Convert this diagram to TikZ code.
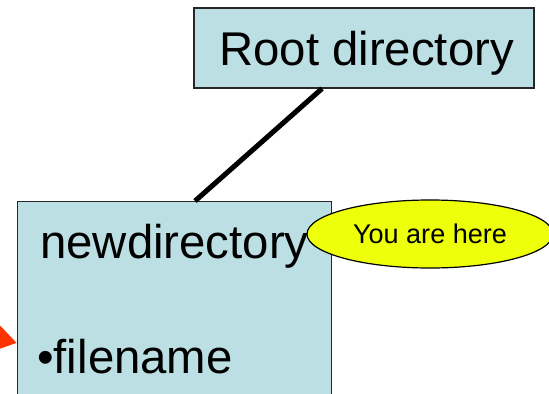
\documentclass[tikz,border=0pt]{standalone}
\usepackage{xcolor}
\usepackage{fontspec}
\setmainfont{Liberation Sans}
\usetikzlibrary{positioning,calc,shapes.geometric}
\usetikzlibrary{arrows.meta}
\definecolor{boxcyan}{HTML}{BBDFE3}
\definecolor{hereyellow}{HTML}{EEFF0A}
\definecolor{pointred}{HTML}{FF3300}

\begin{document}
\begin{tikzpicture}[x=0.75pt,y=-0.75pt,
    dirbox/.style={rectangle,draw=black!85,line width=0.8pt,fill=boxcyan,inner sep=0pt},
    bigtext/.style={font=\fontsize{35.5}{40}\selectfont,inner sep=0pt,anchor=base west},
    bubble/.style={ellipse,draw=black,line width=0.9pt,fill=hereyellow,inner sep=0pt,
        minimum width=246pt*0.75,minimum height=68pt*0.75,font=\fontsize{20.3}{23}\selectfont}]
    \useasboundingbox (0,0) rectangle (549,393);
    \clip (0,0) rectangle (549,393);
    \node[dirbox,minimum width=340*0.75pt,minimum height=80*0.75pt] (root) at (364,48) {};
    \node[bigtext,anchor=base west] (rootlbl) at (219,65) {Root directory};
    \node[dirbox,anchor=north west,minimum width=314*0.75pt,minimum height=230*0.75pt] (newdir) at (17,201) {};
	\node[bigtext] (ndlbl) at (40,258) {newdirectory};
	\node[bigtext] (fname) at (37,373) {\textbullet filename};
    \node[bubble] (here) at (430,234) {You are here};
    % link between the two folders
    \draw[line width=3.8pt] ($(root.south west)!0.377!(root.south east)$) -- ($(newdir.north west)!0.565!(newdir.north east)$);
    % red pointer, mostly off the page
    \coordinate (tail) at (-120,310);
    \draw[pointred,line width=9pt,-{Triangle[length=30pt,width=36pt]}] (tail) -- (newdir.west |- 0,343);
\end{tikzpicture}
\end{document}
